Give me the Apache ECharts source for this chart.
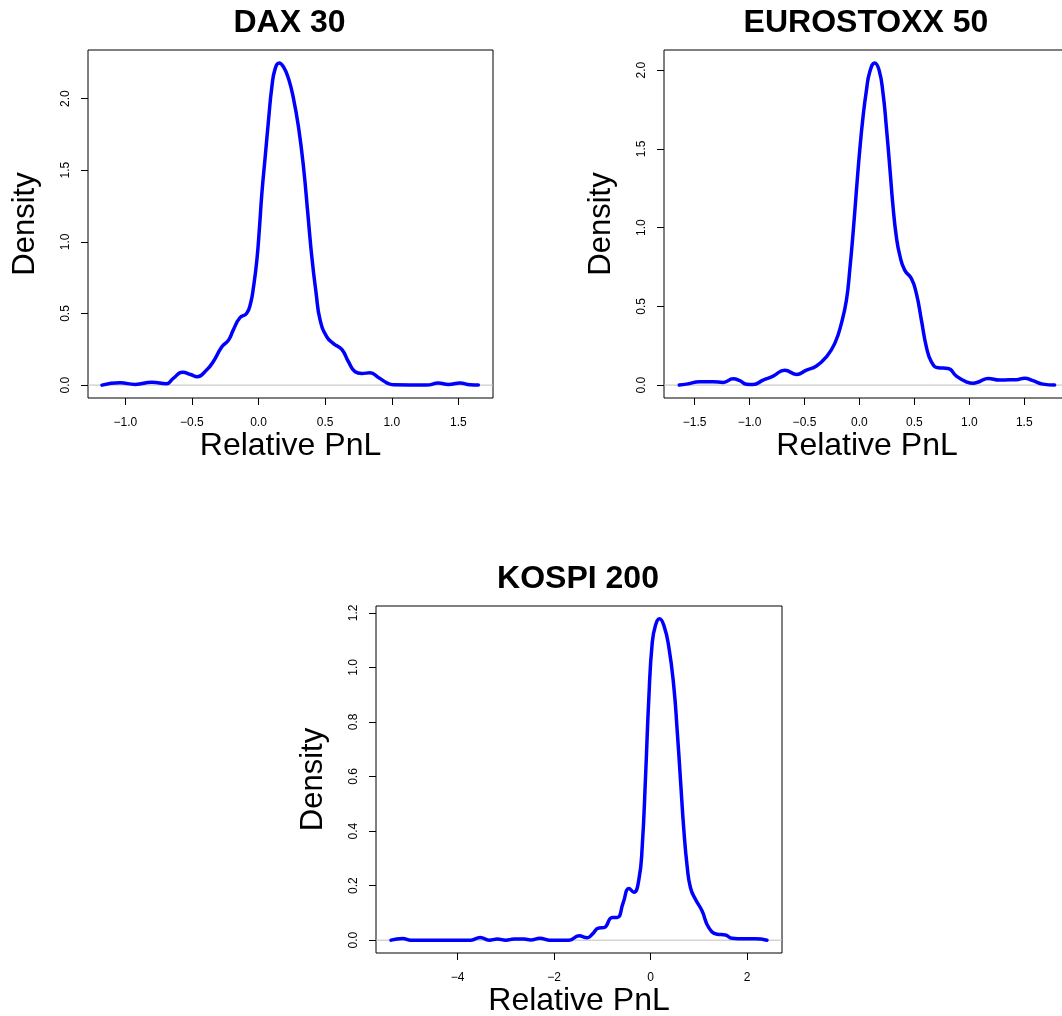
<!DOCTYPE html>
<html>
<head>
<meta charset="utf-8">
<script src="https://cdn.jsdelivr.net/npm/echarts@6/dist/echarts.min.js"></script>
<style>
html,body{margin:0;padding:0;background:#fff;}
#chart{width:1062px;height:1016px;}
</style>
</head>
<body>
<div id="chart"></div>
<script>
// ---------- DATA ----------
const titles = ['DAX 30', 'EUROSTOXX 50', 'KOSPI 200'];
const xLabelText = 'Relative PnL';
const yLabelText = 'Density';

const daxX = [-1.175,-1.04,-0.925,-0.80,-0.69,-0.64,-0.57,-0.51,-0.46,-0.39,-0.34,-0.275,-0.225,-0.19,-0.14,-0.09,-0.06,-0.0375,-0.0125,0.0075,0.025,0.05,0.075,0.10,0.125,0.155,0.1875,0.225,0.2625,0.30,0.3375,0.37,0.40,0.4325,0.4625,0.5125,0.5625,0.625,0.675,0.725,0.775,0.8375,0.90,0.9625,1.0125,1.2625,1.35,1.425,1.5125,1.5875,1.65];
const daxY = [0,0.016,0.005,0.02,0.01,0.047,0.09,0.074,0.058,0.105,0.163,0.267,0.314,0.384,0.47,0.50,0.57,0.686,0.872,1.105,1.337,1.593,1.849,2.081,2.209,2.249,2.221,2.14,2.0,1.802,1.523,1.198,0.895,0.64,0.453,0.337,0.29,0.249,0.163,0.093,0.081,0.086,0.053,0.016,0.002,0,0.014,0.005,0.014,0.002,0];

const euroX = [-1.639,-1.573,-1.452,-1.33,-1.24,-1.148,-1.088,-1.027,-0.967,-0.876,-0.785,-0.679,-0.573,-0.482,-0.391,-0.30,-0.224,-0.164,-0.118,-0.088,-0.058,-0.027,0.003,0.033,0.064,0.094,0.139,0.179,0.215,0.245,0.276,0.306,0.336,0.367,0.412,0.473,0.518,0.564,0.609,0.655,0.715,0.806,0.882,0.973,1.033,1.094,1.17,1.276,1.367,1.427,1.503,1.579,1.67,1.776];
const euroY = [0,0.006,0.021,0.021,0.017,0.04,0.028,0.006,0.004,0.032,0.057,0.095,0.068,0.095,0.121,0.18,0.265,0.392,0.54,0.73,0.963,1.238,1.492,1.704,1.873,1.989,2.046,2.0,1.852,1.64,1.386,1.132,0.942,0.825,0.73,0.677,0.582,0.413,0.243,0.148,0.11,0.106,0.057,0.021,0.011,0.023,0.042,0.032,0.034,0.034,0.044,0.028,0.006,0];

const kospiX = [-5.379,-5.138,-4.966,-3.724,-3.531,-3.345,-3.172,-3.0,-2.828,-2.62,-2.483,-2.29,-2.103,-1.69,-1.483,-1.31,-1.207,-1.069,-0.966,-0.793,-0.69,-0.566,-0.448,-0.345,-0.241,-0.172,-0.103,-0.034,0.034,0.103,0.186,0.276,0.379,0.483,0.552,0.621,0.69,0.759,0.828,0.931,1.069,1.207,1.379,1.552,1.69,1.931,2.172,2.414];
const kospiY = [0,0.006,0,0,0.01,0,0.004,0,0.004,0.004,0.001,0.007,0,0,0.016,0.009,0.022,0.045,0.046,0.083,0.083,0.138,0.189,0.176,0.223,0.344,0.60,0.892,1.087,1.154,1.178,1.154,1.075,0.929,0.77,0.588,0.405,0.271,0.192,0.15,0.107,0.046,0.022,0.019,0.007,0.005,0.005,0];

const daxXTicks = [-1.0,-0.5,0.0,0.5,1.0,1.5];
const daxYTicks = [0.0,0.5,1.0,1.5,2.0];
const euroXTicks = [-1.5,-1.0,-0.5,0.0,0.5,1.0,1.5];
const euroYTicks = [0.0,0.5,1.0,1.5,2.0];
const kospiXTicks = [-4,-2,0,2];
const kospiYTicks = [0.0,0.2,0.4,0.6,0.8,1.0,1.2];

// axis limits (R style 4% extension)
const daxXRange = [-1.28, 1.76];
const daxYRange = [-0.09, 2.339];
const euroXRange = [-1.778, 1.916];
const euroYRange = [-0.082, 2.128];
const kospiXRange = [-5.69, 2.725];
const kospiYRange = [-0.047, 1.225];

// ---------- BUILD ----------
const FONT = '"Liberation Sans", Arial, Helvetica, sans-serif';
const zip = (xs, ys) => xs.map((x, i) => [x, ys[i]]);
const minus = s => s.replace(/-/g, '\u2212');

const grids = [
  {left: 88, top: 50, width: 405, height: 348},
  {left: 664, top: 50, width: 406, height: 348},
  {left: 376, top: 606, width: 406, height: 347}
];
const panels = [
  {xs: daxX, ys: daxY, xt: daxXTicks, yt: daxYTicks, xr: daxXRange, yr: daxYRange, xdec: 1},
  {xs: euroX, ys: euroY, xt: euroXTicks, yt: euroYTicks, xr: euroXRange, yr: euroYRange, xdec: 1},
  {xs: kospiX, ys: kospiY, xt: kospiXTicks, yt: kospiYTicks, xr: kospiXRange, yr: kospiYRange, xdec: 0}
];

const option = {
  backgroundColor: '#ffffff',
  animation: false,
  title: titles.map((t, i) => ({
    text: t,
    left: grids[i].left + grids[i].width / 2 - 1,
    top: grids[i].top - 43,
    padding: 0,
    textAlign: 'center',
    textStyle: {fontFamily: FONT, fontWeight: 'bold', fontSize: 32, color: '#000'}
  })),
  grid: grids.map(g => Object.assign({
    show: true, borderColor: '#000', borderWidth: 1, backgroundColor: 'transparent',
    containLabel: false, outerBoundsMode: 'none'
  }, g)),
  xAxis: panels.map((p, i) => ({
    type: 'value', gridIndex: i, min: p.xr[0], max: p.xr[1],
    name: xLabelText, nameLocation: 'middle', nameGap: 30,
    nameTextStyle: {fontFamily: FONT, fontSize: 32, color: '#000'},
    axisLine: {show: false, onZero: false},
    axisTick: {show: true, length: 7, inside: false, customValues: p.xt, lineStyle: {color: '#000', width: 1}},
    axisLabel: {show: true, customValues: p.xt, margin: 19, fontFamily: FONT, fontSize: 12, color: '#000',
      formatter: v => minus(Number(v).toFixed(p.xdec))},
    splitLine: {show: false}
  })),
  yAxis: panels.map((p, i) => ({
    type: 'value', gridIndex: i, min: p.yr[0], max: p.yr[1],
    name: yLabelText, nameLocation: 'middle', nameGap: 47, nameRotate: 90,
    nameTextStyle: {fontFamily: FONT, fontSize: 31, color: '#000'},
    axisLine: {show: false, onZero: false},
    axisTick: {show: true, length: 7, inside: false, customValues: p.yt, lineStyle: {color: '#000', width: 1}},
    axisLabel: {show: true, customValues: p.yt, margin: 16, rotate: 90, fontFamily: FONT, fontSize: 12, color: '#000',
      formatter: v => minus(Number(v).toFixed(1))},
    splitLine: {show: false}
  })),
  series: []
};

panels.forEach((p, i) => {
  option.series.push({
    type: 'line', xAxisIndex: i, yAxisIndex: i, z: 1, silent: true,
    data: [[p.xr[0], 0], [p.xr[1], 0]],
    symbol: 'none', lineStyle: {color: '#bebebe', width: 1}
  });
  option.series.push({
    type: 'line', xAxisIndex: i, yAxisIndex: i, z: 2,
    data: zip(p.xs, p.ys),
    symbol: 'none', smooth: 0.5,
    lineStyle: {color: '#0000ff', width: 3.5, join: 'round', cap: 'round'}
  });
});

const chart = echarts.init(document.getElementById('chart'), null, {renderer: 'canvas'});
chart.setOption(option);
</script>
</body>
</html>
